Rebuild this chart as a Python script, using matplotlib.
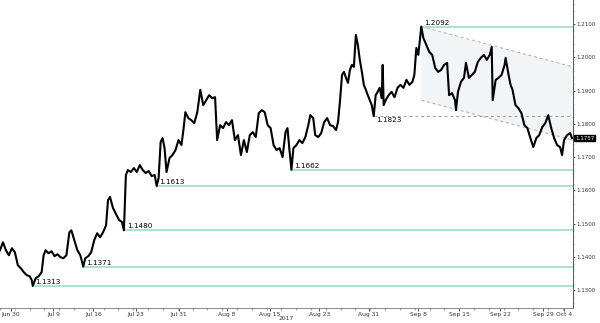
import numpy as np
import matplotlib.pyplot as plt
from matplotlib.ticker import MultipleLocator, FixedLocator

# EUR/USD, x in trading days since start of window
day = [0.00, 0.36, 0.72, 1.08, 1.45, 1.81, 2.17, 2.53, 2.89, 3.25, 3.61, 3.86, 3.98, 4.34, 4.70,
       5.06, 5.30, 5.54, 5.90, 6.27, 6.63, 6.99, 7.35, 7.71, 8.07, 8.43, 8.67, 9.04, 9.40, 9.76,
       10.12, 10.36, 10.72, 11.08, 11.45, 11.81, 12.17, 12.53, 12.89, 13.13, 13.37, 13.73, 14.10,
       14.46, 14.82, 15.06, 15.30, 15.54, 15.90, 16.27, 16.63, 16.99, 17.35, 17.71, 18.07, 18.43,
       18.80, 19.04, 19.28, 19.52, 19.76, 20.00, 20.24, 20.60, 20.96, 21.33, 21.69, 22.05, 22.29,
       22.53, 22.89, 23.25, 23.61, 23.98, 24.34, 24.70, 25.06, 25.42, 25.78, 26.14, 26.39, 26.75,
       27.11, 27.47, 27.83, 28.19, 28.55, 28.92, 29.28, 29.64, 30.00, 30.36, 30.72, 31.08, 31.45,
       31.81, 32.17, 32.53, 32.89, 33.25, 33.61, 33.98, 34.34, 34.70, 34.94, 35.18, 35.42, 35.66,
       36.02, 36.39, 36.75, 37.11, 37.47, 37.71, 38.07, 38.31, 38.67, 39.04, 39.40, 39.76, 40.12,
       40.48, 40.84, 41.08, 41.33, 41.57, 41.81, 42.05, 42.29, 42.53, 42.77, 43.01, 43.25, 43.49,
       43.73, 43.98, 44.22, 44.46, 44.70, 44.94, 45.18, 45.42, 45.66, 45.90, 46.14, 46.39, 46.51,
       46.63, 46.87, 47.23, 47.59, 47.95, 48.31, 48.67, 49.04, 49.40, 49.76, 50.12, 50.36, 50.60,
       50.84, 51.20, 51.45, 51.81, 52.17, 52.53, 52.89, 53.25, 53.61, 53.98, 54.34, 54.58, 54.94,
       55.30, 55.42, 55.66, 56.02, 56.39, 56.63, 56.99, 57.35, 57.71, 58.07, 58.43, 58.80, 59.16,
       59.52, 59.76, 59.88, 60.24, 60.60, 60.96, 61.33, 61.45, 61.81, 62.05, 62.29, 62.65, 63.01,
       63.37, 63.73, 64.10, 64.46, 64.82, 65.18, 65.54, 65.90, 66.27, 66.63, 66.99, 67.35, 67.71,
       68.07, 68.31, 68.55, 68.92, 69.28, 69.52]
price = [1.1420, 1.1444, 1.1420, 1.1405, 1.1426, 1.1414, 1.1375, 1.1366, 1.1354, 1.1345, 1.1342,
         1.1330, 1.1313, 1.1336, 1.1342, 1.1354, 1.1405, 1.1420, 1.1411, 1.1417, 1.1402, 1.1408,
         1.1399, 1.1396, 1.1405, 1.1474, 1.1480, 1.1450, 1.1420, 1.1405, 1.1371, 1.1396, 1.1402,
         1.1414, 1.1450, 1.1471, 1.1459, 1.1474, 1.1495, 1.1571, 1.1580, 1.1547, 1.1529, 1.1511,
         1.1505, 1.1480, 1.1646, 1.1661, 1.1655, 1.1667, 1.1655, 1.1676, 1.1661, 1.1652, 1.1658,
         1.1643, 1.1646, 1.1613, 1.1637, 1.1745, 1.1757, 1.1727, 1.1655, 1.1697, 1.1706, 1.1721,
         1.1751, 1.1736, 1.1781, 1.1835, 1.1817, 1.1811, 1.1802, 1.1835, 1.1902, 1.1856, 1.1871,
         1.1886, 1.1877, 1.1880, 1.1751, 1.1796, 1.1787, 1.1805, 1.1796, 1.1811, 1.1751, 1.1766,
         1.1706, 1.1751, 1.1715, 1.1766, 1.1775, 1.1760, 1.1832, 1.1841, 1.1835, 1.1796, 1.1787,
         1.1736, 1.1721, 1.1727, 1.1700, 1.1775, 1.1787, 1.1721, 1.1662, 1.1727, 1.1736, 1.1751,
         1.1742, 1.1760, 1.1796, 1.1826, 1.1817, 1.1766, 1.1760, 1.1772, 1.1805, 1.1817, 1.1796,
         1.1793, 1.1781, 1.1805, 1.1871, 1.1947, 1.1956, 1.1938, 1.1923, 1.1962, 1.1977, 1.1971,
         1.2067, 1.2037, 1.1992, 1.1956, 1.1917, 1.1902, 1.1886, 1.1871, 1.1856, 1.1823, 1.1886,
         1.1896, 1.1908, 1.1877, 1.1977, 1.1856, 1.1871, 1.1886, 1.1896, 1.1880, 1.1908, 1.1917,
         1.1908, 1.1932, 1.1917, 1.1926, 1.1947, 1.2028, 1.2007, 1.2092, 1.2058, 1.2037, 1.2016,
         1.2007, 1.1968, 1.1956, 1.1962, 1.1977, 1.1983, 1.1886, 1.1892, 1.1871, 1.1841, 1.1896,
         1.1926, 1.1938, 1.1983, 1.1938, 1.1947, 1.1956, 1.1986, 1.1998, 1.2007, 1.1992, 1.2007,
         1.2031, 1.1871, 1.1932, 1.1938, 1.1947, 1.1977, 1.1998, 1.1947, 1.1917, 1.1902, 1.1856,
         1.1847, 1.1832, 1.1796, 1.1787, 1.1757, 1.1730, 1.1757, 1.1766, 1.1790, 1.1802, 1.1826,
         1.1787, 1.1757, 1.1736, 1.1730, 1.1706, 1.1751, 1.1766, 1.1772, 1.1757]

# support lines: level and the day it starts
levels = [1.1313, 1.1371, 1.1480, 1.1613, 1.1662, 1.2092]
level_start = [3.98, 10.12, 15.06, 19.04, 35.42, 51.20]
res_level = 1.1823
res_start = 45.42

# falling channel (start/end)
chan_x = [51.20, 69.64]
chan_top = [1.2092, 1.1971]
chan_bot = [1.1871, 1.1751]

last = 1.1757

tick_pos = [1.33, 6.5, 11.33, 16.5, 21.7, 27.6, 32.8, 38.8, 44.8, 50.8, 55.8, 60.8, 66.0, 68.6]
tick_lab = ["Jun 30", "Jul 9", "Jul 16", "Jul 23", "Jul 31", "Aug 8", "Aug 15", "Aug 23",
            "Aug 31", "Sep 8", "Sep 15", "Sep 22", "Sep 29", "Oct 4"]

fig = plt.figure(figsize=(6, 3.23), dpi=100)
ax = fig.add_axes([0, 0.046, 0.955, 0.954])
xmax = 69.64
ax.set_xlim(0, xmax)
ax.set_ylim(1.1246, 1.2172)

teal = "#a8dccf"
ax.fill_between(chan_x, chan_bot, chan_top, color="#f3f4f6", zorder=0)
ax.plot(chan_x, chan_top, ls=(0, (3, 3)), color="#b0b0b0", lw=0.7, zorder=1)
ax.plot(chan_x, chan_bot, ls=(0, (3, 3)), color="#b0b0b0", lw=0.7, zorder=1)

for lv, st in zip(levels, level_start):
    ax.plot([st, xmax], [lv, lv], color=teal, lw=1.3, zorder=1)
    ax.text(st + 0.35, lv + 0.0003, f"{lv:.4f}", fontsize=5.2, va="bottom", ha="left", zorder=3)

ax.plot([res_start, xmax], [res_level, res_level], ls=(0, (3, 3)), color="#9a9a9a", lw=0.7, zorder=1)
ax.text(res_start + 0.35, res_level - 0.0004, f"{res_level:.4f}", fontsize=5.2, va="top", ha="left")

ax.plot(day, price, color="black", lw=1.5, zorder=2)

for s in ["left", "top"]:
    ax.spines[s].set_visible(False)
ax.spines["right"].set_color("#555555")
ax.spines["bottom"].set_color("#888888")
ax.spines["right"].set_linewidth(0.7)
ax.spines["bottom"].set_linewidth(0.7)

ax.yaxis.tick_right()
yt = np.arange(1.13, 1.2101, 0.01)
ax.set_yticks(yt)
ax.set_yticklabels([f"{v:.4f}" for v in yt])
ax.yaxis.set_minor_locator(MultipleLocator(0.002))
ax.tick_params(axis="y", which="major", labelsize=4.0, length=1.5, width=0.6, pad=0.8, colors="#333333")
ax.tick_params(axis="y", which="minor", length=1, width=0.5, colors="#777777")

ax.xaxis.set_major_locator(FixedLocator(tick_pos))
ax.set_xticklabels(tick_lab)
ax.xaxis.set_minor_locator(MultipleLocator(1.8))
ax.tick_params(axis="x", which="major", labelsize=4.3, length=2, width=0.6, pad=0.8, colors="#333333")
ax.tick_params(axis="x", which="minor", length=1.2, width=0.5, colors="#777777")

ax.text(0.5, -0.027, "2017", transform=ax.transAxes, fontsize=4.3, ha="center", va="top",
        color="#333333")

ax.annotate(f"{last:.4f}", xy=(1.0, last), xycoords=("axes fraction", "data"),
            xytext=(1.4, 0), textcoords="offset points", fontsize=4.0, color="white",
            va="center", ha="left", annotation_clip=False,
            bbox=dict(boxstyle="square,pad=0.12", fc="black", ec="black"))

fig.savefig("out.png", dpi=100)
